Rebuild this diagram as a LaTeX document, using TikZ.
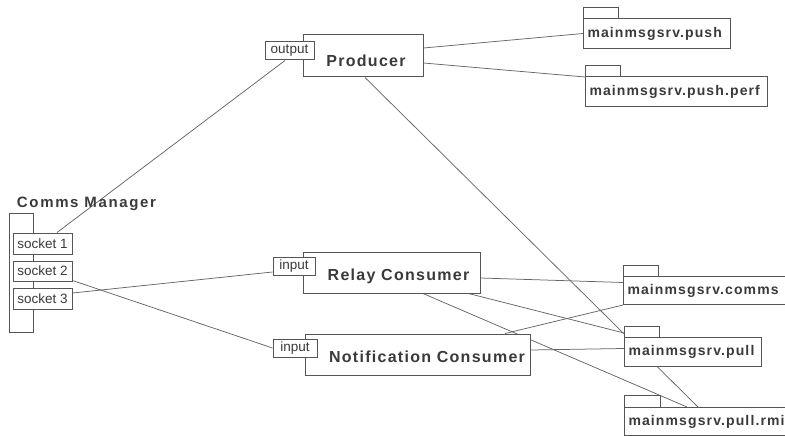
\documentclass[tikz,border=0pt]{standalone}
\usepackage{fontspec}
\setmainfont{Liberation Sans}
\newfontfamily\ttlfont{Liberation Sans}[LetterSpace=8]
\newfontfamily\cmfont{Liberation Sans}[LetterSpace=11]
\newfontfamily\pkgfont{Liberation Sans}[LetterSpace=8]
\usetikzlibrary{calc,backgrounds}
\definecolor{edgec}{HTML}{555555}
\definecolor{ink}{HTML}{3A3A3A}
\definecolor{wirec}{HTML}{666666}
\tikzset{
 box/.style={draw=edgec, line width=1pt, fill=white, inner sep=0pt, rectangle},
 port/.style={box, font=\fontsize{13.5}{14}\selectfont, text=ink},
 ttl/.style={font=\ttlfont\bfseries\fontsize{16}{18}\selectfont, text=ink, inner sep=0pt},
 pkgtab/.style={box, anchor=north west},
 pkgbody/.style={box, anchor=north west, font=\pkgfont\bfseries\fontsize{14}{16}\selectfont, text=ink, inner xsep=4pt, align=left},
 wire/.style={draw=wirec, line width=0.75pt},
}
\begin{document}
\begin{tikzpicture}[x=1pt,y=-1pt]
\useasboundingbox (0,0) rectangle (785,436);
% Comms Manager
\node[box, minimum width=24, minimum height=119] (cm) at (21,272.5) {};
\node[ttl, font=\cmfont\bfseries\fontsize{15}{17}\selectfont] (cmt) at (86.5,204) {Comms Manager};
\node[port, minimum width=59, minimum height=21] (s1) at (42.5,243.5) {socket 1};
\node[port, minimum width=59, minimum height=20] (s2) at (42.5,271) {socket 2};
\node[port, minimum width=59, minimum height=21] (s3) at (42.5,298.5) {socket 3};
% Producer
\node[box, minimum width=120, minimum height=42] (prod) at (363,56) {};
\node[port, minimum width=49, minimum height=18] (out) at (289.5,51) {output};
\node[ttl] (prodt) at (366,61) {Producer};
% Relay Consumer
\node[box, minimum width=177, minimum height=41] (rel) at (391.5,272.5) {};
\node[port, minimum width=42, minimum height=18] (in1) at (294,266) {input};
\node[ttl] (relt) at (398.5,276) {Relay Consumer};
% Notification Consumer
\node[box, minimum width=225, minimum height=41] (noti) at (417.5,354.5) {};
\node[port, minimum width=44, minimum height=18] (in2) at (295,348) {input};
\node[ttl] (notit) at (427,357) {Notification Consumer};
% Packages
\node[pkgtab, minimum width=35, minimum height=11] (pusht) at (583,7) {};
\node[pkgbody, minimum width=147, minimum height=30, text width=139] (push) at (583,18) {mainmsgsrv.push};
\node[pkgtab, minimum width=35, minimum height=11] (perft) at (585,65) {};
\node[pkgbody, minimum width=182, minimum height=30, text width=174] (perf) at (585,76) {mainmsgsrv.push.perf};
\node[pkgtab, minimum width=35, minimum height=11] (commst) at (623,265) {};
\node[pkgbody, minimum width=180, minimum height=28, text width=172] (comms) at (623,276) {mainmsgsrv.comms};
\node[pkgtab, minimum width=35, minimum height=11] (pullt) at (624,326) {};
\node[pkgbody, minimum width=137, minimum height=29, text width=129] (pull) at (624,337) {mainmsgsrv.pull};
\node[pkgtab, minimum width=36, minimum height=12] (rmit) at (624,395) {};
\node[pkgbody, minimum width=180, minimum height=28, text width=172] (rmi) at (624,407) {mainmsgsrv.pull.rmi};
% Connectors
\begin{pgfonlayer}{background}
\draw[wire] ($(s1.north)+(14.5,0)$) -- ($(out.south)+(-4.5,0)$);
\draw[wire] ($(s2.south east)+(0,-1)$) -- (in2.west);
\draw[wire] ($(s3.east)+(0,-5.5)$) -- ($(in1.west)+(0,6)$);
\draw[wire] ($(prod.east)+(0,-8)$) -- (push.west);
\draw[wire] ($(prod.east)+(0,7)$) -- ($(perf.north west)+(0,1)$);
\draw[wire] ($(prod.south)+(2,0)$) -- ($(rmi.north west)+(74,0)$);
\draw[wire] ($(rel.east)+(0,5.5)$) -- ($(comms.west)+(0,-8)$);
\draw[wire] ($(rel.south east)+(-12,0)$) -- ($(pullt.south west)+(0,-5)$);
\draw[wire] ($(rel.south)+(31.5,0)$) -- ($(rmi.north west)+(63,0)$);
\draw[wire] ($(noti.north)+(87.5,0)$) -- (comms.south west);
\draw[wire] ($(noti.east)+(0,-4.5)$) -- ($(pull.west)+(0,-3.5)$);
\end{pgfonlayer}
\end{tikzpicture}
\end{document}
